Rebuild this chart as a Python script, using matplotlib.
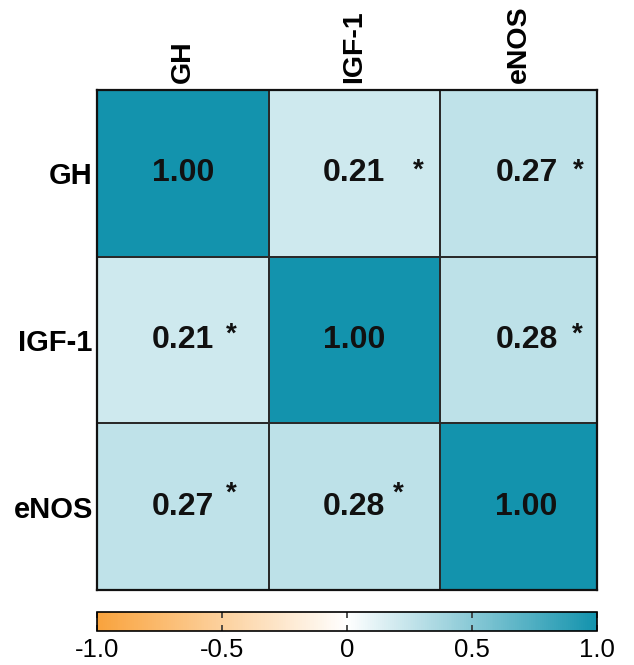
import numpy as np
import matplotlib
matplotlib.use("Agg")
import matplotlib.pyplot as plt
from matplotlib.colors import LinearSegmentedColormap

labels = ["GH", "IGF-1", "eNOS"]
corr = [[1.00, 0.21, 0.27],
        [0.21, 1.00, 0.28],
        [0.27, 0.28, 1.00]]
signif = [[False, True, True],
          [True, False, True],
          [True, True, False]]
cbar_ticks = [-1.0, -0.5, 0.0, 0.5, 1.0]
cbar_ticklabels = ["-1.0", "-0.5", "0", "0.5", "1.0"]

plt.rcParams['font.family'] = ['Liberation Sans', 'DejaVu Sans']

cmap = LinearSegmentedColormap.from_list("ob", ["#F9A33D", "#FFFFFF", "#1393AD"])

fig = plt.figure(figsize=(6.34, 6.65), dpi=100)
ax = fig.add_axes([97/634, 1-590/665, 500/634, 500/665])
data = np.array(corr)
n = len(labels)
# layout: last column is slightly narrower in the reference
xedges = np.array([0, 1, 2, 2.915])
yedges = np.arange(n+1)
im = ax.pcolormesh(xedges, yedges, data, cmap=cmap, vmin=-1, vmax=1,
                   edgecolor="#2a2a2a", linewidth=1.2)
ax.set_xlim(xedges[0], xedges[-1])
ax.set_ylim(n, 0)
xc = (xedges[:-1] + xedges[1:]) / 2
ax.set_xticks(xc)
ax.set_yticks(np.arange(n)+0.5)
ax.xaxis.tick_top()
ax.set_xticklabels(labels, rotation=90, fontsize=20.5, fontweight='bold', va='bottom')
ax.set_yticklabels(labels, fontsize=21, fontweight='bold')
ax.tick_params(axis='x', length=0, pad=5)
ax.tick_params(axis='y', length=0, pad=3)
for s in ax.spines.values():
    s.set_linewidth(1.6)
    s.set_color("#111111")

# text placement offsets (pixels)
val_dx = [0, 0, 8]                 # per column
star_dx = [[0, 64, 52],
           [49, 0, 51],
           [49, 44, 0]]
star_dy = [7, 9, 17]               # per row, upward
for i in range(n):
    for j in range(n):
        ax.annotate(f"{corr[i][j]:.2f}", xy=(xc[j], i+0.5), xytext=(val_dx[j], 0),
                    textcoords='offset pixels', ha='center', va='center',
                    fontsize=23, fontweight='bold', color='#111111')
        if signif[i][j]:
            ax.annotate("*", xy=(xc[j], i+0.5),
                        xytext=(val_dx[j]+star_dx[i][j], star_dy[i]-4),
                        textcoords='offset pixels', ha='center', va='center',
                        fontsize=20, fontweight='bold', color='#111111')

cax = fig.add_axes([97/634, 1-631/665, 500/634, 19/665])
cb = fig.colorbar(im, cax=cax, orientation='horizontal', ticks=cbar_ticks)
cb.ax.set_xticklabels(cbar_ticklabels, fontsize=18.5)
cb.ax.tick_params(direction='in', length=4, width=1.2, top=True, color='#333333', pad=5)
cb.outline.set_linewidth(1.2)

fig.savefig("out.png", dpi=100)
